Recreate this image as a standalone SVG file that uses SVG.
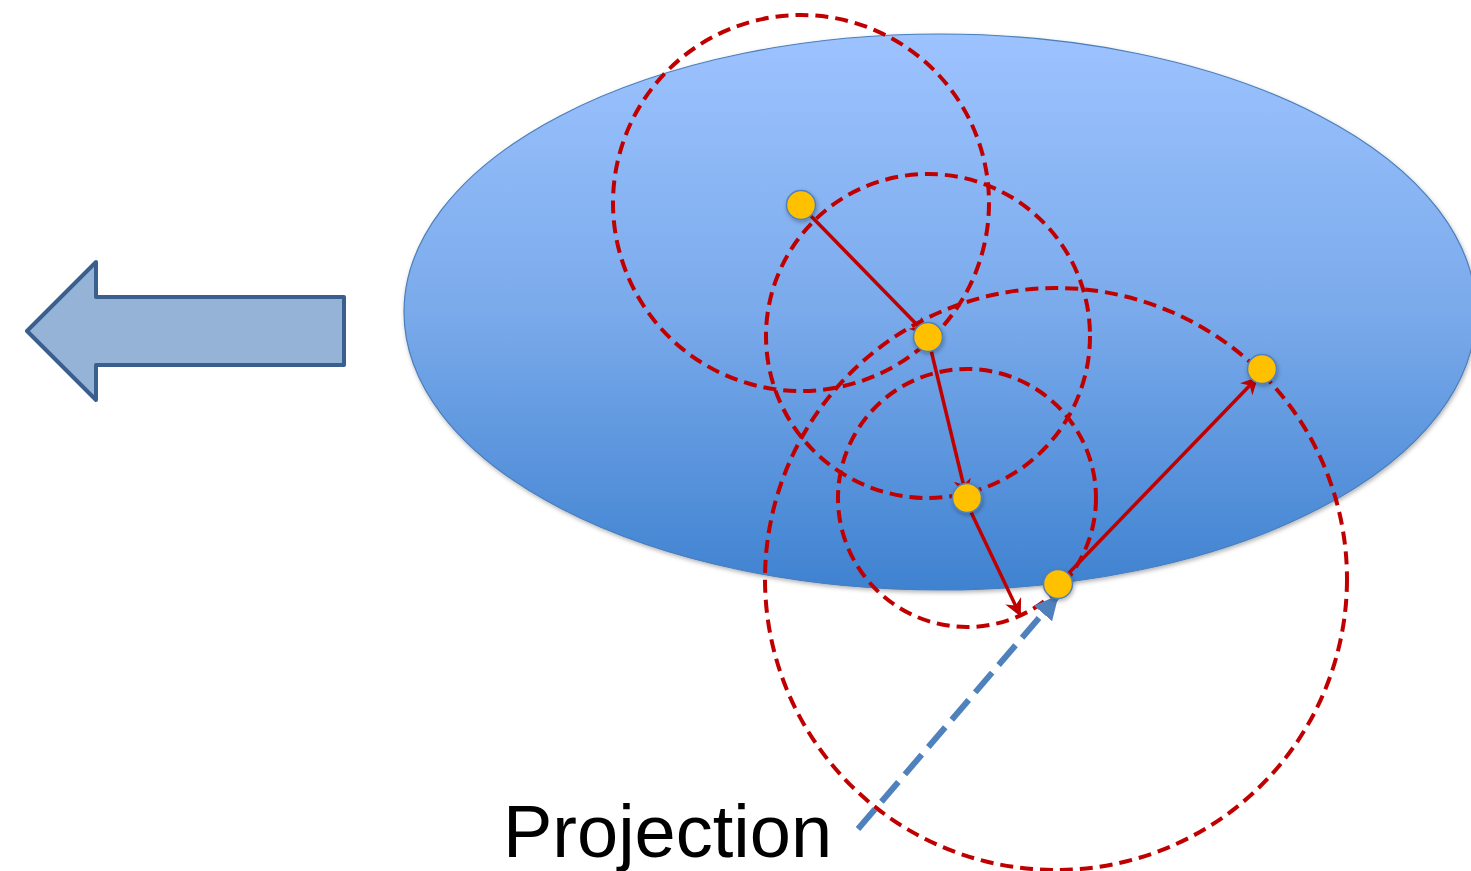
<svg xmlns="http://www.w3.org/2000/svg" width="1471" height="871" viewBox="0 0 1471 871">
<style>
.ring{fill:none;stroke:#c00000;stroke-width:4;stroke-dasharray:13 7}
.step{stroke:#c00000;stroke-width:3.5;fill:none}
.dot{fill:#ffc000;stroke:#4f81bd;stroke-width:1.5}
.proj{stroke:#4f81bd;stroke-width:6;stroke-dasharray:26 10;fill:none}
.label{font-family:"Liberation Sans",Arial,sans-serif;font-size:74px;fill:#000}
</style>
<defs>
<linearGradient id="g" x1="0" y1="0" x2="0" y2="1">
<stop offset="0" stop-color="#9dc3ff"/>
<stop offset="0.5" stop-color="#7aaaeb"/>
<stop offset="1" stop-color="#3f82d0"/>
</linearGradient>
<marker id="ra" viewBox="0 0 10 10" refX="9" refY="5" markerWidth="5" markerHeight="5" orient="auto" markerUnits="strokeWidth">
<path d="M0,0 L10,5 L0,10 L3,5 Z" fill="#c00000"/>
</marker>
<marker id="ba" viewBox="0 0 10 10" refX="9" refY="5" markerWidth="4" markerHeight="4" orient="auto" markerUnits="strokeWidth">
<path d="M0,0 L10,5 L0,10 Z" fill="#4f81bd"/>
</marker>
<filter id="sh" x="-20%" y="-20%" width="140%" height="140%">
<feDropShadow dx="1" dy="2" stdDeviation="2" flood-color="#000" flood-opacity="0.3"/>
</filter>
</defs>
<g id="blob">
<ellipse cx="940" cy="312" rx="536" ry="278" fill="url(#g)" stroke="#4a7ebb" stroke-width="1.2" filter="url(#sh)"/>
</g>
<g id="left-arrow">
<path d="M27,331 L96,262 L96,297 L344,297 L344,365 L96,365 L96,400 Z" fill="#95b3d7" stroke="#3a5f8f" stroke-width="4" stroke-linejoin="round"/>
</g>
<g id="rings">
<circle class="ring" cx="801" cy="203" r="188"/>
<circle class="ring" cx="928" cy="336" r="162"/>
<circle class="ring" cx="967" cy="498" r="129"/>
<circle class="ring" cx="1056" cy="579" r="291"/>
</g>
<g id="connectors">
<line class="step" x1="810" y1="215" x2="926" y2="334" marker-end="url(#ra)"/>
<line class="step" x1="931" y1="350" x2="966" y2="495" marker-end="url(#ra)"/>
<line class="step" x1="970" y1="510" x2="1020" y2="615" marker-end="url(#ra)"/>
<line class="step" x1="1066" y1="576" x2="1257" y2="378" marker-end="url(#ra)"/>
<line class="proj" x1="858" y1="829" x2="1057" y2="597" marker-end="url(#ba)"/>
</g>
<g id="dots" filter="url(#sh)">
<circle class="dot" cx="801" cy="205" r="14.5"/>
<circle class="dot" cx="928" cy="337" r="14.5"/>
<circle class="dot" cx="967" cy="498" r="14.5"/>
<circle class="dot" cx="1058" cy="584" r="14.5"/>
<circle class="dot" cx="1262" cy="369" r="14.5"/>
</g>
<g id="label">
<text class="label" x="503" y="857">Projection</text>
</g>
</svg>
